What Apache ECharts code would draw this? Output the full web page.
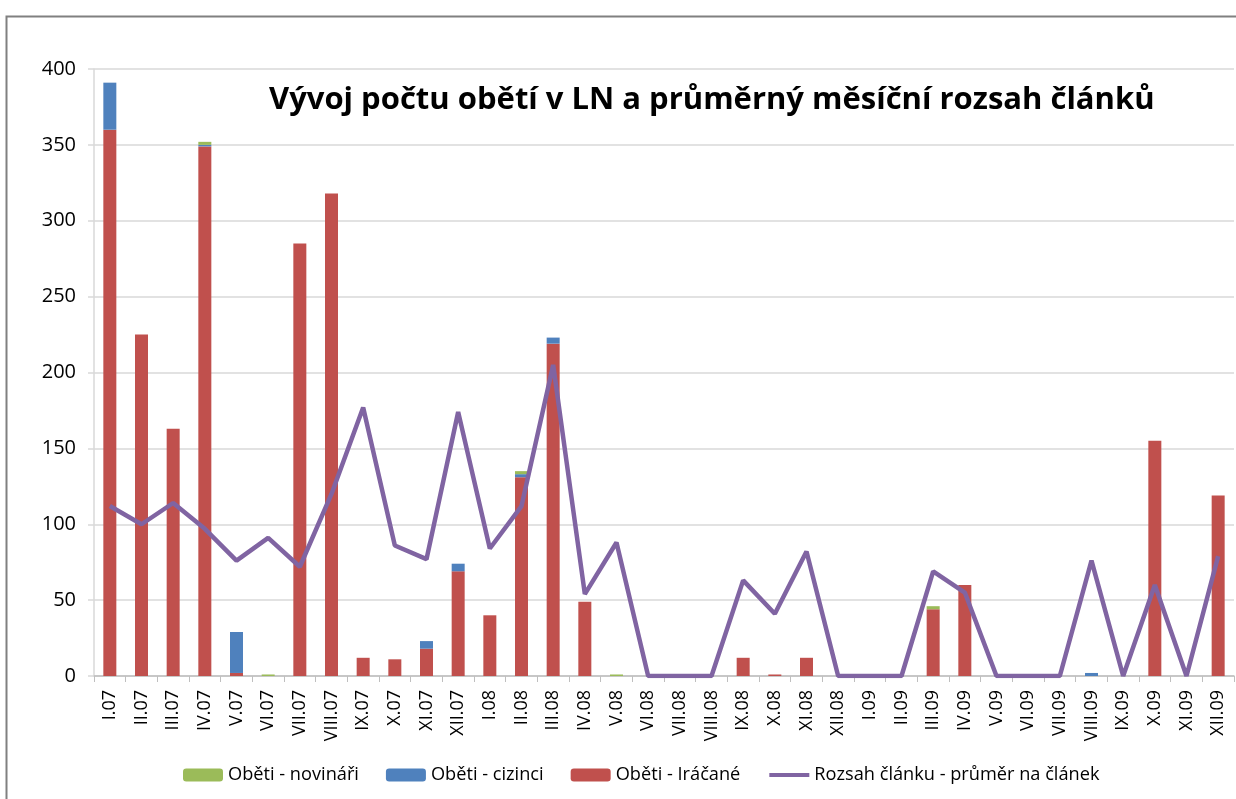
<!DOCTYPE html>
<html>
<head>
<meta charset="utf-8">
<script src="https://cdn.jsdelivr.net/npm/echarts@6/dist/echarts.min.js"></script>
<style>
  html, body { margin: 0; padding: 0; background: #fff; }
  #chart { width: 1236px; height: 799px; }
</style>
</head>
<body>
<div id="chart"></div>
<script>
// měsíce
const months = ['I.07','II.07','III.07','IV.07','V.07','VI.07','VII.07','VIII.07','IX.07','X.07','XI.07','XII.07',
  'I.08','II.08','III.08','IV.08','V.08','VI.08','VII.08','VIII.08','IX.08','X.08','XI.08','XII.08',
  'I.09','II.09','III.09','IV.09','V.09','VI.09','VII.09','VIII.09','IX.09','X.09','XI.09','XII.09'];

const iracane = [360,225,163,349,2,0,285,318,12,11,18,69, 40,131,219,49,0,0,0,0,12,1,12,0, 0,0,44,60,0,0,0,0,0,155,0,119];
const cizinci = [31,0,0,1,27,0,0,0,0,0,5,5, 0,2,4,0,0,0,0,0,0,0,0,0, 0,0,0,0,0,0,0,2,0,0,0,0];
const novinari = [0,0,0,2,0,1,0,0,0,0,0,0, 0,2,0,0,1,0,0,0,0,0,0,0, 0,0,2,0,0,0,0,0,0,0,0,0];
const rozsah = [112,100,114,97,76,91,72,120,177,86,77,174, 84,112,205,54,88,0,0,0,63,41,82,0, 0,0,69,55,0,0,0,76,0,60,0,79];

const yTicks = { min: 0, max: 400, interval: 50 };

const font = 'Open Sans';
const chart = echarts.init(document.getElementById('chart'));

chart.setOption({
  animation: false,
  textStyle: { fontFamily: font },
  title: {
    text: 'Vývoj počtu obětí v LN a průměrný měsíční rozsah článků',
    left: 264, top: 80,
    textStyle: { fontFamily: font, fontWeight: 'bold', fontSize: 31, color: '#000' }
  },
  graphic: [{
    type: 'rect', left: 4, top: 14, silent: true,
    shape: { width: 1400, height: 900 },
    style: { fill: 'none', stroke: '#808080', lineWidth: 2 }
  }],
  legend: {
    bottom: 10, left: 178,
    itemWidth: 40, itemHeight: 13, itemGap: 27,
    textStyle: { fontSize: 18.2, color: '#000' },
    data: ['Oběti - novináři', 'Oběti - cizinci', 'Oběti - Iráčané',
      { name: 'Rozsah článku - průměr na článek', itemStyle: { opacity: 0 },
        lineStyle: { width: 4, color: '#8064A2' } }]
  },
  grid: { left: 94, right: 2, top: 69, bottom: 123 },
  xAxis: {
    type: 'category', data: months,
    axisLine: { lineStyle: { color: '#bfbfbf', width: 1.5 } },
    axisTick: { show: true, length: 6, lineStyle: { color: '#bfbfbf' } },
    axisLabel: { rotate: 90, fontSize: 18, color: '#000', interval: 0, margin: 14 }
  },
  yAxis: {
    type: 'value', min: yTicks.min, max: yTicks.max, interval: yTicks.interval,
    axisLine: { show: true, lineStyle: { color: '#d9d9d9', width: 1.5 } },
    axisTick: { show: true, length: 6, lineStyle: { color: '#d9d9d9', width: 1.5 } },
    axisLabel: { fontSize: 20, color: '#000', margin: 18 },
    splitLine: { lineStyle: { color: '#d9d9d9', width: 1.5 } }
  },
  series: [
    { name: 'Oběti - Iráčané', type: 'bar', stack: 'obeti', data: iracane, barWidth: 13,
      itemStyle: { color: '#C0504D' } },
    { name: 'Oběti - cizinci', type: 'bar', stack: 'obeti', data: cizinci, barWidth: 13,
      itemStyle: { color: '#4F81BD' } },
    { name: 'Oběti - novináři', type: 'bar', stack: 'obeti', data: novinari, barWidth: 13,
      itemStyle: { color: '#9BBB59' } },
    { name: 'Rozsah článku - průměr na článek', type: 'line', data: rozsah,
      symbol: 'none', lineStyle: { color: '#8064A2', width: 4.5 },
      itemStyle: { color: '#8064A2' }, z: 5 }
  ]
});
</script>
</body>
</html>
